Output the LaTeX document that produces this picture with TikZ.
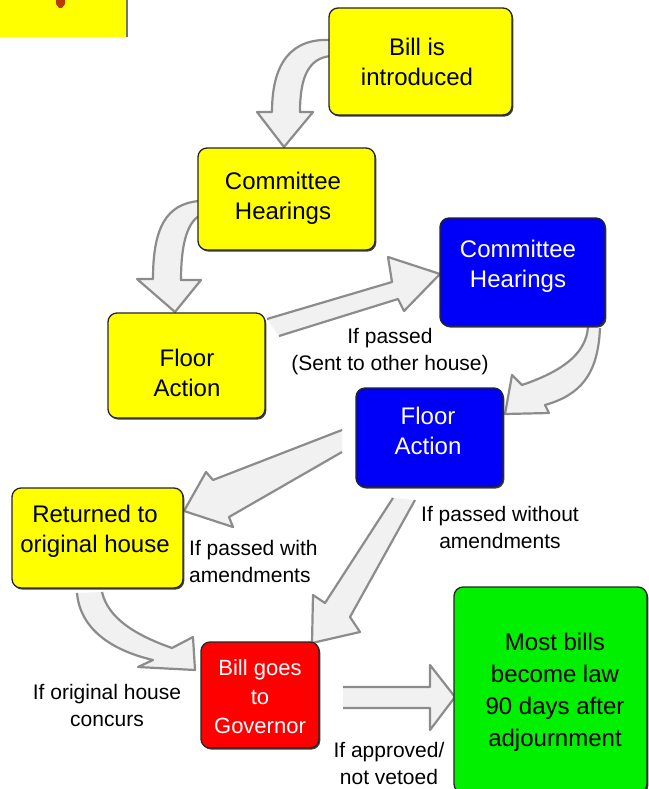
\documentclass[tikz,border=0pt]{standalone}
\usepackage{fontspec}
\setmainfont{Liberation Sans}
\usetikzlibrary{shadows}
\definecolor{boxyellow}{HTML}{FFFF00}
\definecolor{boxblue}{HTML}{0000F8}
\definecolor{boxred}{HTML}{FF0000}
\definecolor{boxgreen}{HTML}{00F000}
\definecolor{tipred}{HTML}{B83A00}
\newcommand{\blockarr}[1]{\fill[arrfill] #1 -- cycle; \draw[arrline] #1;}
\begin{document}
\begin{tikzpicture}[x=1pt,y=-1pt,
  box/.style={rounded corners=9pt, draw=black!85, line width=1.3pt,
    drop shadow={shadow xshift=1.3pt, shadow yshift=-1.6pt, fill=black!75, opacity=1},
    inner sep=0pt},
  boxtext/.style={align=center, font=\fontsize{24}{30}\selectfont, inner sep=0pt},
  lbl/.style={align=center, font=\fontsize{21}{27}\selectfont, inner sep=0pt},
  arrfill/.style={fill=gray!11, draw=none},
  arrline/.style={draw=black!45, line width=2.2pt, line join=round}]
\useasboundingbox (0,0) rectangle (648,789);
\fill[white] (0,0) rectangle (648,789);

% top-left partial box
\fill[boxyellow] (0,0) rectangle (127,37);
\draw[black!55, line width=1.2pt] (127,0) -- (127,37);
\fill[tipred] (56,0) -- (65,0) -- (65,4) -- (62,8) -- (59,8) -- (56,4) -- cycle;

% block arrows
\blockarr{(331,40) .. controls (292,38) and (272,62) .. (272,112) -- (257,112) -- (284,147) -- (313,112) -- (300,112) .. controls (300,78) and (308,58) .. (331,56)}
\blockarr{(199,201) .. controls (166,204) and (153,228) .. (153,279) -- (137,279) -- (175,312) -- (201,280) -- (181,280) .. controls (181,248) and (186,224) .. (199,216)}
\blockarr{(267,319) -- (392,282) -- (388,257) -- (440,274) -- (404,311) -- (398,299) -- (279,336)}
\blockarr{(588,327) .. controls (586,355) and (560,372) .. (522,385) -- (512,375) -- (505,414) -- (549,413) -- (545,405) .. controls (580,395) and (598,375) .. (600,328)}
\blockarr{(342,430) -- (213,480) -- (206,472) -- (184,511) -- (233,527) -- (229,517) -- (342,452)}
\blockarr{(393,498) -- (325,603) -- (313,595) -- (312,643) -- (360,632) -- (350,617) -- (415,500)}
\blockarr{(77,593) .. controls (80,628) and (110,650) .. (153,660) -- (138,667) -- (195,670) -- (193,637) -- (172,648) .. controls (135,635) and (108,618) .. (102,592)}
\blockarr{(343,687) -- (430,687) -- (430,665) -- (455,697) -- (430,730) -- (430,708) -- (343,708)}

% boxes
\node[box, fill=boxyellow, minimum width=183pt, minimum height=107pt] (bill) at (420.5,61.5) {};
\node[box, fill=boxyellow, minimum width=177pt, minimum height=102pt] (ch1) at (286.5,199) {};
\node[box, fill=boxyellow, minimum width=157pt, minimum height=105pt] (fa1) at (186.5,365.5) {};
\node[box, fill=boxblue, minimum width=165pt, minimum height=108pt] (ch2) at (522.5,272) {};
\node[box, fill=boxblue, minimum width=147pt, minimum height=99pt] (fa2) at (429.5,437.5) {};
\node[box, fill=boxyellow, minimum width=171pt, minimum height=100pt] (ret) at (97.5,538) {};
\node[box, fill=boxred, minimum width=118pt, minimum height=106pt] (gov) at (260,695) {};
\node[box, fill=boxgreen, minimum width=193pt, minimum height=206pt] (law) at (550.5,690) {};

% box texts
\node[boxtext] (billt) at (417,62) {Bill is\\introduced};
\node[boxtext] (ch1t) at (283,198) {Committee\\Hearings};
\node[boxtext] (fa1t) at (187,373) {Floor\\Action};
\node[boxtext, text=white] (ch2t) at (518,266) {Committee\\Hearings};
\node[boxtext, text=white] (fa2t) at (428,431) {Floor\\Action};
\node[boxtext] (rett) at (95,531) {Returned to\\original house};
\node[align=center, font=\fontsize{22}{29}\selectfont, inner sep=0pt, text=white] (govt) at (260,697) {Bill goes\\to\\Governor};
\node[align=center, font=\fontsize{24}{32}\selectfont, inner sep=0pt] (lawt) at (555,692) {Most bills\\become law\\90 days after\\adjournment};

% labels
\node[lbl] (l1) at (390,352) {If passed\\(Sent to other house)};
\node[lbl] (l2) at (500,527) {If passed without\\amendments};
\node[lbl, align=left, anchor=west] (l3) at (189,561) {If passed with\\amendments};
\node[lbl] (l4) at (107,705) {If original house\\concurs};
\node[lbl] (l5) at (389,763) {If approved/\\not vetoed};
\end{tikzpicture}
\end{document}
